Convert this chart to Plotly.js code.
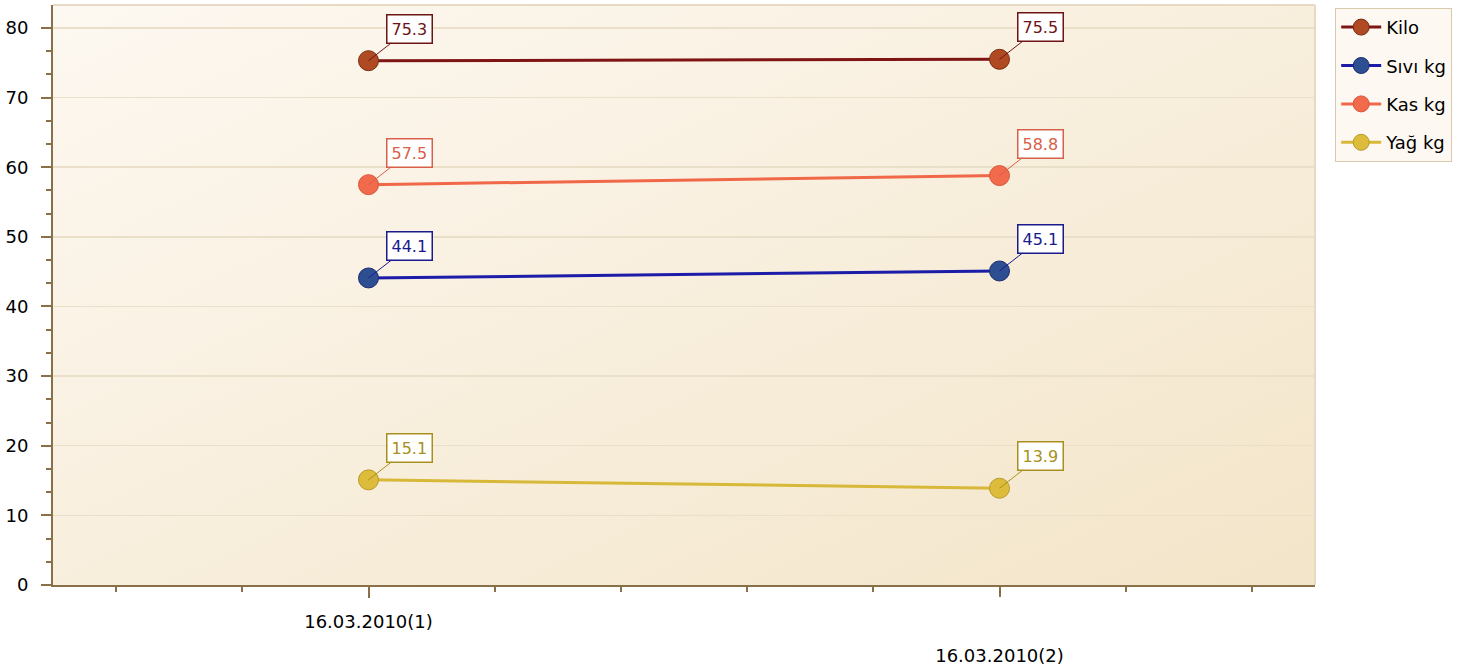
<!DOCTYPE html>
<html><head><meta charset="utf-8">
<script src="https://cdn.plot.ly/plotly-3.0.1.min.js"></script>
<style>html,body{margin:0;padding:0;background:#fff;}#chart{width:1480px;height:670px;}</style>
</head><body><div id="chart"></div>
<script>
const categories = ["16.03.2010(1)", "16.03.2010(2)"];
const seriesNames = ["Kilo", "Sıvı kg", "Kas kg", "Yağ kg"];
const kilo = [75.3, 75.5];
const sivi = [44.1, 45.1];
const kas = [57.5, 58.8];
const yag = [15.1, 13.9];
const yTicks = [0, 10, 20, 30, 40, 50, 60, 70, 80];

const seriesValues = [kilo, sivi, kas, yag];
const seriesAxis = ["x", "x", "x", "x2"];
const lineColors = ["#7e1414", "#1c1ca8", "#f06848", "#d8b838"];
const markerColors = ["#b04a22", "#2d4f92", "#f26a4c", "#dcbc3a"];
const markerLines = ["#7a2a10", "#1c2c70", "#d8553a", "#b89a28"];
const labelColors = ["#6e1414", "#1a1a8a", "#d86048", "#a89020"];

const xs = categories.map((c, i) => i);
const traces = seriesValues.map((vals, s) => ({
  x: xs, y: vals, type: "scatter", mode: "lines+markers",
  xaxis: seriesAxis[s], yaxis: "y",
  name: seriesNames[s], legendgroup: "g" + s,
  line: {color: lineColors[s], width: 3},
  marker: {color: markerColors[s], size: 20, line: {color: markerLines[s], width: 1}},
  hoverinfo: "skip"
}));

const annotations = [];
seriesValues.forEach((vals, s) => {
  vals.forEach((v, i) => {
    annotations.push({
      x: xs[i], y: v, xref: seriesAxis[s], yref: "y",
      text: v.toFixed(1), showarrow: true, arrowhead: 0, arrowwidth: 1,
      arrowcolor: labelColors[s], ax: 41, ay: -32,
      bgcolor: "#ffffff", bordercolor: labelColors[s], borderwidth: 1.5, borderpad: 4,
      font: {family: "DejaVu Sans", size: 16, color: labelColors[s]}
    });
  });
});

const bgSvg = '<svg xmlns="http://www.w3.org/2000/svg" width="100" height="100" preserveAspectRatio="none"><defs><linearGradient id="g" x1="0" y1="0" x2="1" y2="1"><stop offset="0" stop-color="#fdf8f1"/><stop offset="1" stop-color="#f3e5c9"/></linearGradient></defs><rect width="100" height="100" fill="url(#g)"/></svg>';

const tickFont = {family: "DejaVu Sans", size: 18, color: "#000"};
const layout = {
  width: 1480, height: 670,
  margin: {l: 53, r: 165, t: 5, b: 85},
  paper_bgcolor: "#ffffff", plot_bgcolor: "rgba(0,0,0,0)",
  font: {family: "DejaVu Sans", size: 17, color: "#000"},
  showlegend: true,
  legend: {x: 1.016, y: 0.995, xanchor: "left", yanchor: "top",
    bgcolor: "#fdf9f2", bordercolor: "#d8c8ac", borderwidth: 1,
    font: {family: "DejaVu Sans", size: 18, color: "#000"},
    tracegroupgap: 12, itemwidth: 40},
  xaxis: {range: [-0.5, 1.5], tickvals: [xs[0]], ticktext: [categories[0]],
    showgrid: false, zeroline: false, showline: true, linecolor: "#8a7048", linewidth: 2,
    ticks: "outside", ticklen: 11, tickwidth: 2, tickcolor: "#8a7048", ticklabelstandoff: 8,
    minor: {tickvals: [-0.4, -0.2, 0.2, 0.4, 0.6, 0.8, 1.2, 1.4], ticks: "outside", ticklen: 5, tickwidth: 2, tickcolor: "#8a7048", showgrid: false},
    tickfont: tickFont, fixedrange: true},
  xaxis2: {range: [-0.5, 1.5], overlaying: "x", anchor: "y", side: "bottom",
    tickvals: [xs[1]], ticktext: [categories[1]],
    showgrid: false, zeroline: false, showline: false,
    ticks: "outside", ticklen: 11, tickwidth: 2, tickcolor: "#8a7048", ticklabelstandoff: 43,
    tickfont: tickFont, fixedrange: true},
  yaxis: {range: [0, 83.3], tickvals: yTicks,
    showgrid: true, gridcolor: "#eadfc8", gridwidth: 1.5, zeroline: false,
    showline: true, linecolor: "#8a7048", linewidth: 2,
    ticks: "outside", ticklen: 10, tickwidth: 2, tickcolor: "#8a7048", ticklabelstandoff: 9,
    minor: {dtick: 10/3, tick0: 0, ticks: "outside", ticklen: 5, tickwidth: 2, tickcolor: "#8a7048", showgrid: false},
    tickfont: tickFont, fixedrange: true},
  images: [{source: "data:image/svg+xml;charset=utf-8," + encodeURIComponent(bgSvg),
    xref: "paper", yref: "paper", x: 0, y: 1, sizex: 1, sizey: 1,
    sizing: "stretch", xanchor: "left", yanchor: "top", layer: "below"}],
  shapes: [
    {type: "line", xref: "paper", yref: "paper", x0: 0, x1: 1, y0: 1, y1: 1, line: {color: "#e6dac6", width: 2}},
    {type: "line", xref: "paper", yref: "paper", x0: 1, x1: 1, y0: 0, y1: 1, line: {color: "#e6dac6", width: 2}}
  ],
  annotations: annotations
};
Plotly.newPlot("chart", traces, layout, {displayModeBar: false, staticPlot: true});
</script></body></html>
